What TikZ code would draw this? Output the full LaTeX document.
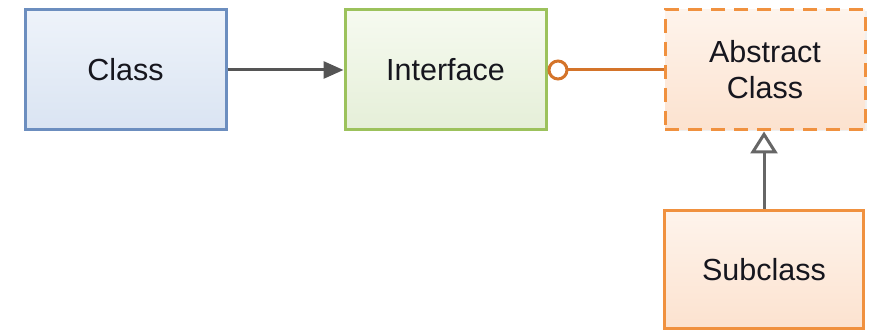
\documentclass[tikz,border=0pt]{standalone}
\usepackage{fontspec}
\setmainfont{Liberation Sans}
\usetikzlibrary{arrows.meta,shadows}
\definecolor{txt}{HTML}{16161E}
\definecolor{blueB}{HTML}{6C8EBF}
\definecolor{blueT}{HTML}{EEF3FA}
\definecolor{blueD}{HTML}{DAE4F2}
\definecolor{greenB}{HTML}{9CC25C}
\definecolor{greenT}{HTML}{F6FAF0}
\definecolor{greenD}{HTML}{E5EFD8}
\definecolor{orB}{HTML}{F0913F}
\definecolor{orT}{HTML}{FEF4EC}
\definecolor{orD}{HTML}{FCE2CF}
\definecolor{orL}{HTML}{D4742A}
\definecolor{grayL}{HTML}{555555}
\begin{document}
\begin{tikzpicture}[x=1pt,y=1pt,
  box/.style={rectangle, line width=3pt, align=center, text=txt,
    font=\fontsize{30.5}{36}\selectfont,
    drop shadow={opacity=0.12, shadow xshift=1.5pt, shadow yshift=-1.5pt}},
  classbox/.style={box, draw=blueB, top color=blueT, bottom color=blueD},
  ifacebox/.style={box, draw=greenB, top color=greenT, bottom color=greenD},
  absbox/.style={box, draw=orB, top color=orT, bottom color=orD, dash pattern=on 14pt off 9pt},
  subbox/.style={box, draw=orB, top color=orT, bottom color=orD},
  assoc/.style={line width=3pt, draw=grayL, -{Triangle[length=20pt,width=17pt]}},
  lolly/.style={line width=3pt, draw=orL, {Circle[open,length=21pt,width=21pt,fill=white]}-},
  inherit/.style={line width=3pt, draw=grayL!90, -{Triangle[open,length=22pt,width=27pt,fill=white]}}
]
\useasboundingbox (0,0) rectangle (870,331);
\node[classbox, minimum width=201pt, minimum height=120pt] (cls) at (125.5,261) {Class};
\node[ifacebox, minimum width=201pt, minimum height=120pt] (ifc) at (445.5,261) {Interface};
\node[absbox, minimum width=200pt, minimum height=120pt] (abs) at (765,261) {Abstract\\Class};
\node[subbox, minimum width=199pt, minimum height=118pt] (sub) at (764,61.5) {Subclass};
\draw[assoc] (cls.east) -- (ifc.west);
\draw[lolly] (ifc.east) -- (abs.west);
\draw[inherit] (sub.north) -- (sub.north |- abs.south);
\end{tikzpicture}
\end{document}
